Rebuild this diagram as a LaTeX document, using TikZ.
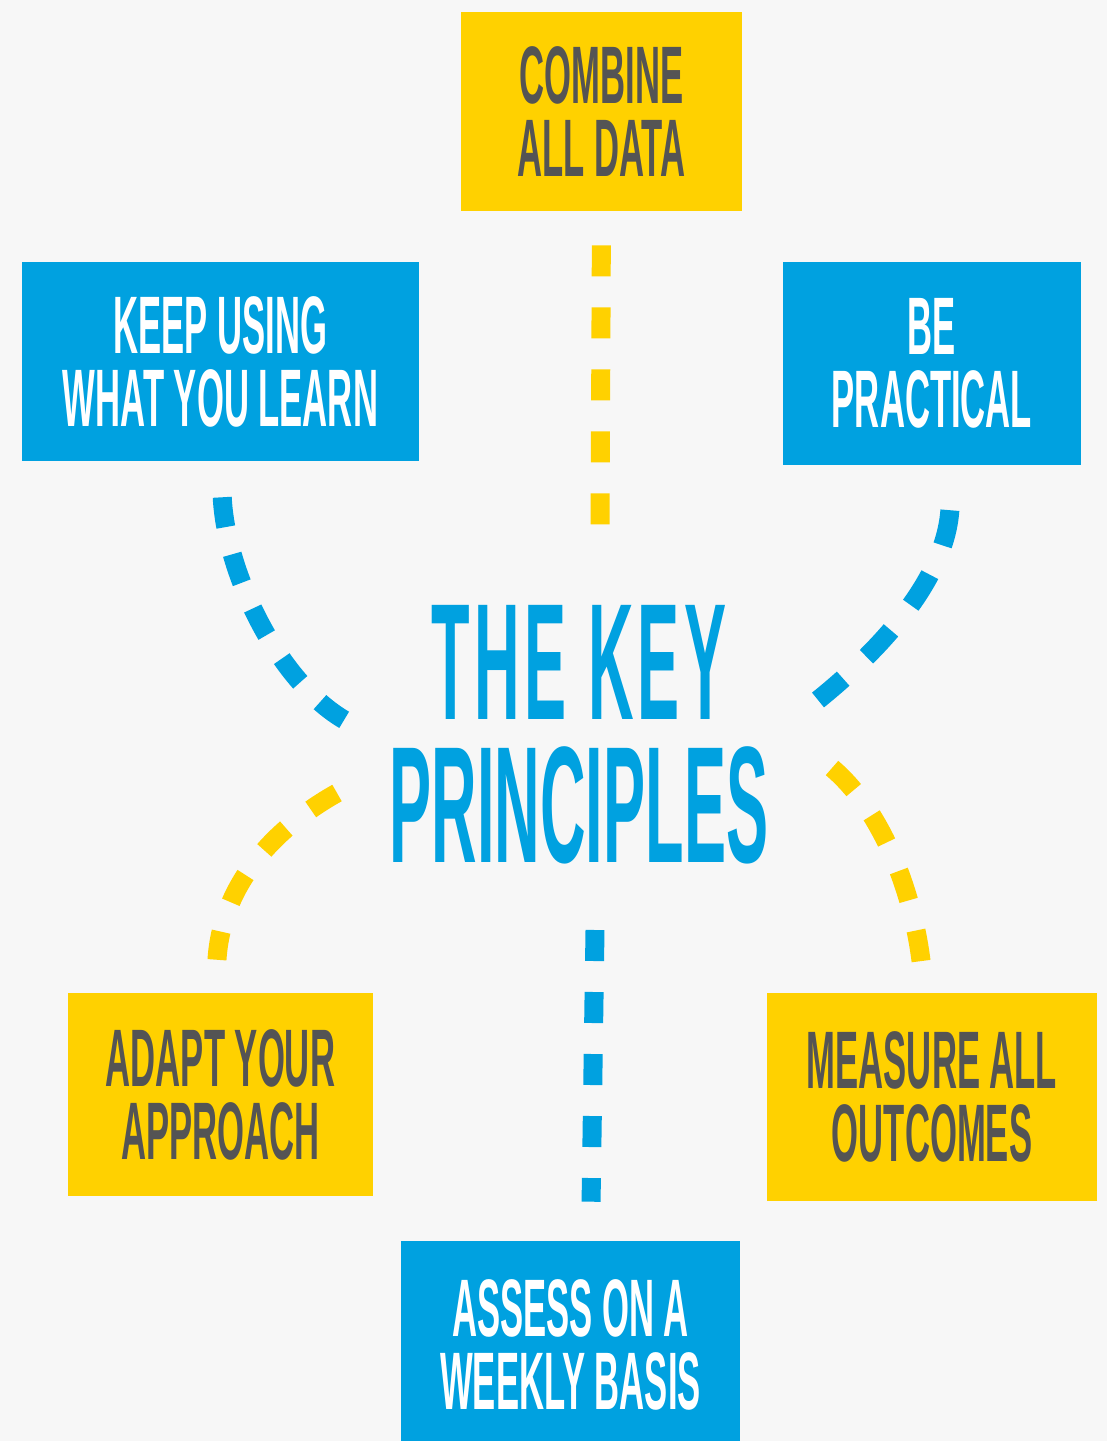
\documentclass[tikz,border=0pt]{standalone}
\usepackage{fontspec}
\usepackage{tikz}
\usepackage{color}

\newfontfamily\handfont[FakeStretch=0.425]{Liberation Sans}
\newfontfamily\titlefont[FakeStretch=0.38]{Liberation Sans}
\definecolor{keyblue}{RGB}{0,161,224}
\definecolor{keyyellow}{RGB}{255,209,0}
\definecolor{keygray}{RGB}{84,84,84}
\definecolor{keybg}{RGB}{247,247,247}

\begin{document}
\begin{tikzpicture}[x=0.025cm,y=-0.025cm]
              \tikzstyle{every node}+=[inner sep=0pt, align=center]
              \tikzstyle{boxtext}=[font=\handfont\bfseries\fontsize{58}{52}\selectfont]
              \tikzstyle{bluebox}=[boxtext, fill=keyblue, text=white]
              \tikzstyle{yellowbox}=[boxtext, fill=keyyellow, text=keygray]
              \tikzstyle{dashline}=[line width=13.5pt, dash pattern=on 0.775cm off 0.775cm]
              \tikzstyle{bluedash}=[dashline, keyblue]
              \tikzstyle{yellowdash}=[dashline, keyyellow]
              \fill [keybg] (0,0) rectangle (1107,1441);
              \useasboundingbox (0,0) rectangle (1107,1441);
              % boxes
              \node [yellowbox, minimum width=7.025cm, minimum height=4.975cm] (combine) at (601.5,111.5) {COMBINE\\ALL DATA};
              \node [bluebox, minimum width=9.925cm, minimum height=4.975cm] (keep) at (220.5,361.5) {KEEP USING\\WHAT YOU LEARN};
              \node [bluebox, minimum width=7.45cm, minimum height=5.075cm] (practical) at (932,363.5) {BE\\PRACTICAL};
              \node [yellowbox, minimum width=7.625cm, minimum height=5.075cm] (adapt) at (220.5,1094.5) {ADAPT YOUR\\APPROACH};
              \node [yellowbox, minimum width=8.25cm, minimum height=5.2cm] (measure) at (932,1097) {MEASURE ALL\\OUTCOMES};
              \node [bluebox, minimum width=8.475cm, minimum height=5.2cm] (assess) at (570.5,1345) {ASSESS ON A\\WEEKLY BASIS};
              % centre
              \node [text=keyblue, font=\titlefont\bfseries\fontsize{118}{102}\selectfont] (title) at (579,734.5) {{\addfontfeature{LetterSpace=2.6}THE KEY}\\PRINCIPLES};
              % free ends next to the title
              \coordinate (top-end) at (600,530);
              \coordinate (ul-end) at (348,722);
              \coordinate (ur-end) at (818,700);
              \coordinate (ll-start) at (337,793);
              \coordinate (lr-start) at (832,768);
              \coordinate (bot-start) at (595,930);
              % dashed connectors
              \draw [yellowdash, shorten <=0.85cm] (combine.south) -- (top-end);
              \draw [bluedash, dash pattern=on 0.75cm off 0.7cm, shorten <=0.9cm] (keep.south) .. controls (226,575) and (280,685) .. (ul-end);
              \draw [bluedash, dash pattern=on 0.9cm off 0.8cm, shorten <=1.125cm] ([xshift=0.525cm]practical.south) .. controls (945,580) and (880,650) .. (ur-end);
              \draw [yellowdash, shorten >=0.825cm] (ll-start) .. controls (280,825) and (222,880) .. ([xshift=-0.14cm]adapt.north);
              \draw [yellowdash, shorten >=0.775cm] (lr-start) .. controls (876,805) and (911,880) .. ([xshift=-0.175cm]measure.north);
              \draw [bluedash, shorten >=0.975cm] (bot-start) -- ([xshift=0.5cm]assess.north);
            \end{tikzpicture}
\end{document}
